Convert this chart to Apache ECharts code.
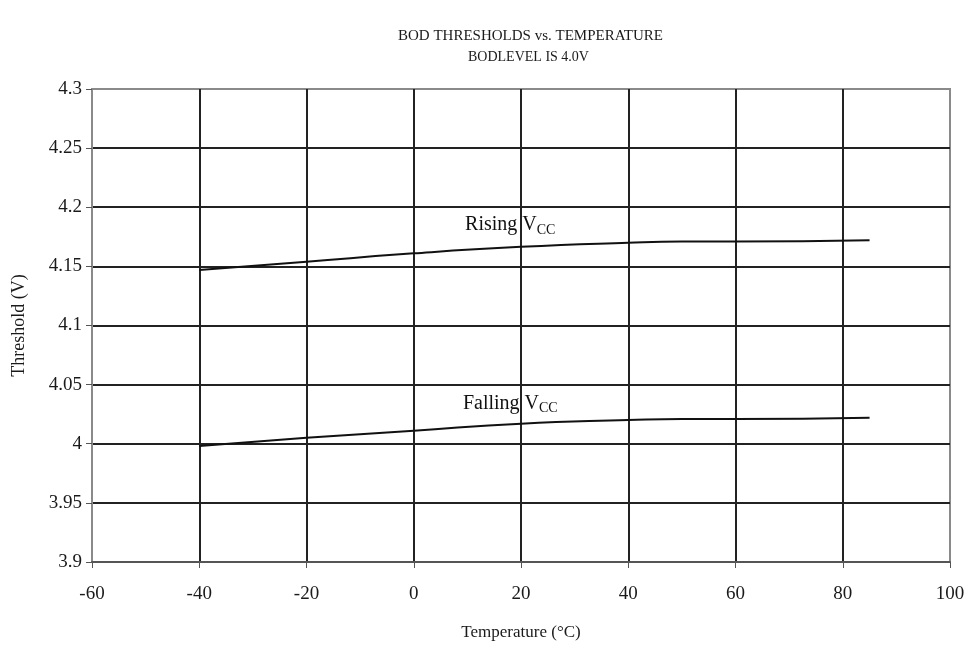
<!DOCTYPE html>
<html>
<head>
<meta charset="utf-8">
<script src="https://cdn.jsdelivr.net/npm/echarts@6/dist/echarts.min.js"></script>
<style>html,body{margin:0;padding:0;background:#fff}#c{width:969px;height:648px}</style>
</head>
<body>
<div id="c"></div>
<script>
var temperatures = [-40, -20, 0, 20, 40, 50, 60, 85];
var risingVcc = [4.147, 4.154, 4.161, 4.1665, 4.170, 4.171, 4.171, 4.172];
var fallingVcc = [3.998, 4.005, 4.011, 4.017, 4.020, 4.021, 4.021, 4.022];
var seriesNames = ['Rising', 'Falling'];
var labelTemps = [18, 18];
var labelVolts = [4.185, 4.034];
var xTicks = {min: -60, max: 100, interval: 20};
var yTicks = {min: 3.9, max: 4.3, interval: 0.05};

var FONT = '"Liberation Serif", "Times New Roman", serif';
var chart = echarts.init(document.getElementById('c'));

function pairs(xs, ys) { return xs.map(function (x, i) { return [x, ys[i]]; }); }

var richStyle = {
  a: {fontFamily: FONT, fontSize: 20, color: '#111', lineHeight: 24},
  c: {fontFamily: FONT, fontSize: 14, color: '#111', lineHeight: 12, verticalAlign: 'bottom'}
};

chart.setOption({
  animation: false,
  backgroundColor: '#fff',
  title: [{
    left: 393, top: 24,
    text: 'BOD THRESHOLDS vs. TEMPERATURE',
    textStyle: {fontFamily: FONT, fontSize: 15, fontWeight: 'normal', color: '#1a1a1a'}
  }, {
    left: 463, top: 45,
    text: 'BODLEVEL IS 4.0V',
    textStyle: {fontFamily: FONT, fontSize: 14, fontWeight: 'normal', color: '#1a1a1a'}
  }],
  grid: {left: 92, right: 19, top: 89, bottom: 86, show: true, borderColor: '#8a8a8a', borderWidth: 2, backgroundColor: '#fff'},
  xAxis: {
    type: 'value', min: xTicks.min, max: xTicks.max, interval: xTicks.interval,
    name: 'Temperature (°C)', nameLocation: 'middle', nameGap: 62,
    nameTextStyle: {fontFamily: FONT, fontSize: 17, color: '#1a1a1a'},
    axisLine: {show: true, onZero: false, lineStyle: {color: '#555', width: 2}},
    axisTick: {show: true, length: 6, lineStyle: {color: '#555', width: 1}},
    axisLabel: {fontFamily: FONT, fontSize: 19, color: '#1a1a1a', margin: 23},
    splitLine: {show: true, showMinLine: false, showMaxLine: false, lineStyle: {color: '#222', width: 2}}
  },
  yAxis: {
    type: 'value', min: yTicks.min, max: yTicks.max, interval: yTicks.interval,
    name: 'Threshold (V)', nameLocation: 'middle', nameGap: 64,
    nameTextStyle: {fontFamily: FONT, fontSize: 18, color: '#1a1a1a'},
    axisLine: {show: true, onZero: false, lineStyle: {color: '#8a8a8a', width: 2}},
    axisTick: {show: true, length: 6, lineStyle: {color: '#555', width: 1}},
    axisLabel: {fontFamily: FONT, fontSize: 19, color: '#1a1a1a', margin: 10},
    splitLine: {show: true, showMinLine: false, showMaxLine: false, lineStyle: {color: '#222', width: 2}}
  },
  series: [
    {
      name: seriesNames[0], type: 'line', smooth: true, showSymbol: false, symbol: 'none',
      data: pairs(temperatures, risingVcc),
      lineStyle: {color: '#111', width: 2}, z: 5
    },
    {
      name: seriesNames[1], type: 'line', smooth: true, showSymbol: false, symbol: 'none',
      data: pairs(temperatures, fallingVcc),
      lineStyle: {color: '#111', width: 2}, z: 5
    },
    {
      type: 'scatter', symbolSize: 1, silent: true, z: 6,
      itemStyle: {color: 'rgba(0,0,0,0)', opacity: 1},
      data: seriesNames.map(function (n, i) { return {value: [labelTemps[i], labelVolts[i]], name: n}; }),
      label: {
        show: true, position: 'inside', color: '#111', opacity: 1, textBorderWidth: 0,
        formatter: function (p) { return '{a|' + p.name + ' V}{c|CC}'; },
        rich: richStyle
      }
    }
  ]
});
</script>
</body>
</html>
